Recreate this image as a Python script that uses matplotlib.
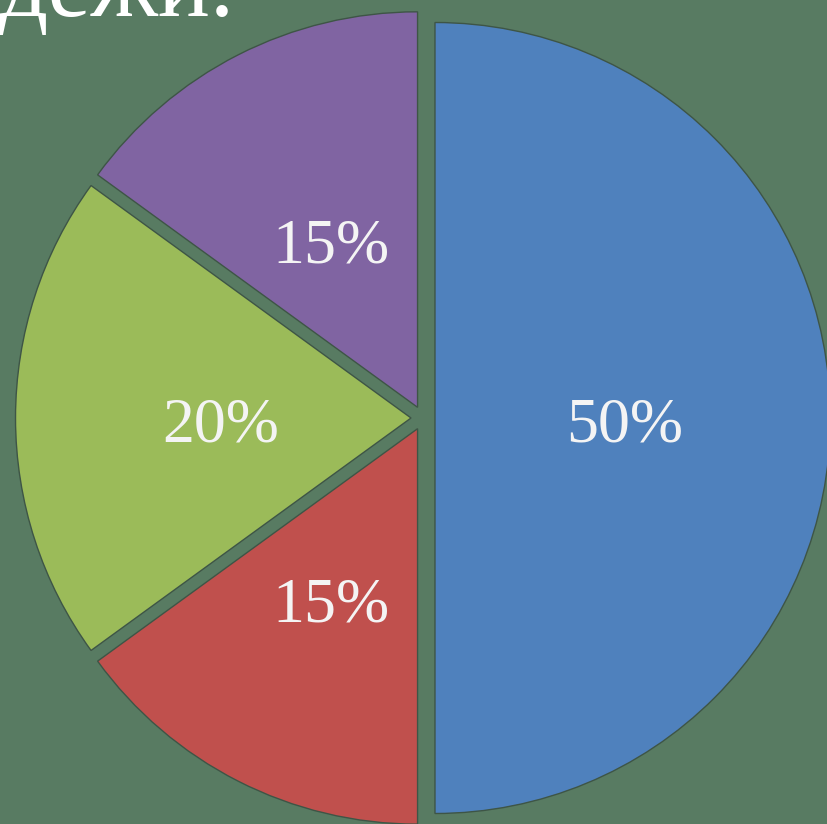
import matplotlib.pyplot as plt

# slice data, clockwise from the top
shares = [50, 15, 20, 15]
slice_colors = ["#4F81BD", "#C0504D", "#9BBB59", "#8064A2"]
heading = "дежи."

bg = "#587B62"
px_w, px_h = 827, 824
radius_px = 395.5
cx, cy = 423, 418  # pie centre in pixels from top-left

fig = plt.figure(figsize=(px_w / 100, px_h / 100), dpi=100)
fig.patch.set_facecolor(bg)
ax = fig.add_axes([0, 0, 1, 1])
ax.set_facecolor(bg)

wedges, texts, autotexts = ax.pie(
    shares,
    colors=slice_colors,
    startangle=90,
    counterclock=False,
    explode=[0.0303] * len(shares),
    autopct="%d%%",
    pctdistance=0.48,
    wedgeprops=dict(edgecolor="#3E5546", linewidth=1.0),
    textprops=dict(color="#F4F4F4", fontsize=46, family="Liberation Serif"),
)

# nudge the percentage labels down a little
for t in autotexts:
    x, y = t.get_position()
    t.set_position((x, y - 9 / radius_px))

ax.set_aspect("auto")
ax.set_xlim(-cx / radius_px, (px_w - cx) / radius_px)
ax.set_ylim(-(px_h - cy) / radius_px, cy / radius_px)
ax.axis("off")

fig.text(-0.002, 1 - 16 / px_h, heading, color="white", fontsize=70,
         family="Liberation Serif", ha="left", va="baseline")

fig.savefig("out.png", dpi=100, facecolor=bg)
